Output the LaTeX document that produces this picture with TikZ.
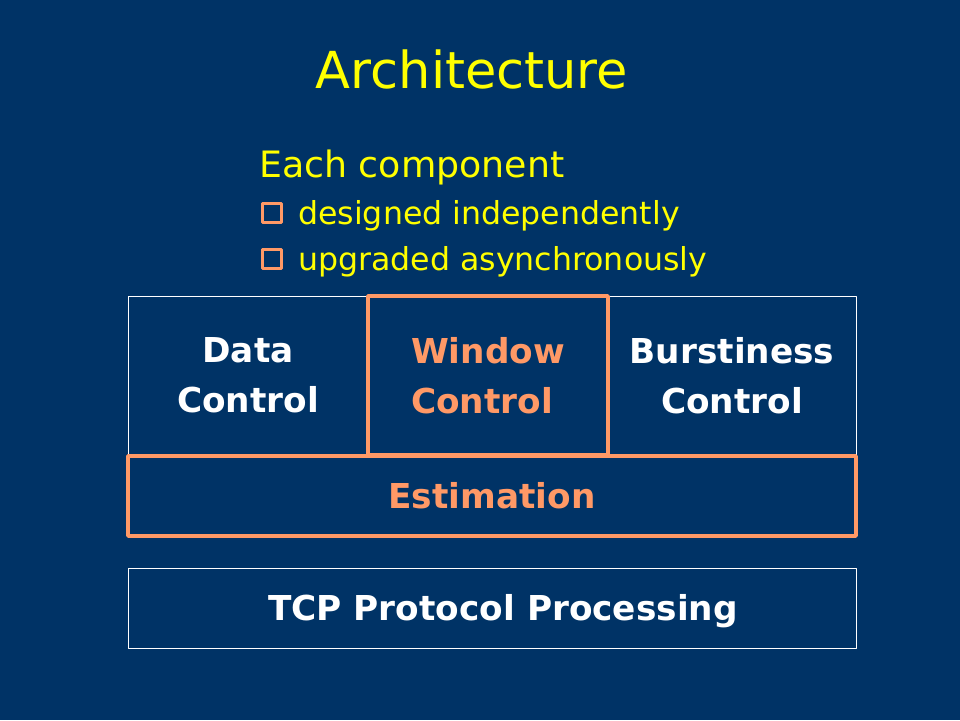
\documentclass[tikz,border=0pt]{standalone}
\usepackage{fontspec}
\setmainfont{DejaVu Sans}
\definecolor{slidebg}{HTML}{003366}
\definecolor{slideyellow}{HTML}{FFFF00}
\definecolor{slideorange}{HTML}{FF9966}
\tikzset{
  whitebox/.style={draw=white,line width=1pt,minimum width=#1,inner sep=0pt},
  orangebox/.style={draw=slideorange,line width=3.5pt,minimum width=#1,inner sep=0pt},
  boxtext/.style={font=\fontsize{34.3}{50}\selectfont\bfseries},
  bulletsq/.style={draw=slideorange,line width=3pt,minimum size=18.5pt,inner sep=0pt}
}
\begin{document}
\begin{tikzpicture}[line cap=round,line join=round,x=1pt,y=-1pt]
  \fill[slidebg] (0,0) rectangle (960,720);
  \useasboundingbox (0,0) rectangle (960,720);
  % heading
  \node[anchor=base,text=slideyellow,font=\fontsize{51}{60}\selectfont] (title) at (472,88) {Architecture};
  \node[anchor=base west,text=slideyellow,font=\fontsize{36.3}{44}\selectfont,inner sep=0pt] (each) at (259,177) {Each component};
  \node[bulletsq] (sq1) at (272,213) {};
  \node[bulletsq] (sq2) at (272,259) {};
  \node[anchor=base west,text=slideyellow,font=\fontsize{31.6}{38}\selectfont,inner sep=0pt] (b1) at (298,224) {designed independently};
  \node[anchor=base west,text=slideyellow,font=\fontsize{31.6}{38}\selectfont,inner sep=0pt] (b2) at (298,270) {upgraded asynchronously};
  % boxes
  \node[whitebox=240,minimum height=159,boxtext,text=white,align=center] (data) at (248,375.5) {Data\\Control};
  \node[whitebox=248,minimum height=159,boxtext,text=white,align=center] (burst) at (732,375.5) {Burstiness\\Control};
  \node[whitebox=728,minimum height=80] (tcp) at (492,608) {};
  \node[boxtext,text=white] (tcplabel) at ([xshift=11,yshift=-3]tcp.center) {TCP Protocol Processing};
  \node[orangebox=240,minimum height=159,boxtext,text=slideorange,align=left] (window) at (488,375.5) {Window\\Control};
  \node[orangebox=728,minimum height=80,boxtext,text=slideorange] (est) at (492,496) {Estimation};
\end{tikzpicture}
\end{document}
